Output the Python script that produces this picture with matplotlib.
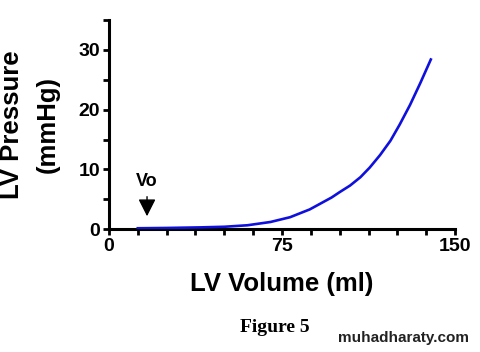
import numpy as np
import matplotlib.pyplot as plt
from matplotlib.ticker import MultipleLocator

# LV end-diastolic pressure-volume relation
volume = [12.5, 25, 40, 50, 60, 70, 78.5, 87, 96.5, 100, 104.5, 109, 113,
          117.5, 122, 126, 130.5, 135, 139.5]
pressure = [0.15, 0.2, 0.3, 0.4, 0.65, 1.2, 2.0, 3.3, 5.3, 6.2, 7.3, 8.7, 10.3,
            12.4, 14.8, 17.5, 20.8, 24.5, 28.4]

vo_x = 16.5
xticks = [0, 75, 150]
yticks = [0, 10, 20, 30]

plt.rcParams['font.family'] = ['Liberation Sans', 'DejaVu Sans']

fig = plt.figure(figsize=(4.8, 3.52), dpi=100)
ax = fig.add_axes([0.227, 0.349, 0.721, 0.594])

ax.plot(volume, pressure, color='#1010dd', lw=1.9, zorder=3,
        solid_joinstyle='round')

ax.set_xlim(0, 150)
ax.set_ylim(0, 35)
ax.set_xticks(xticks)
ax.set_yticks(yticks)
ax.xaxis.set_minor_locator(MultipleLocator(12.5))
ax.yaxis.set_minor_locator(MultipleLocator(5))

for s in ['top', 'right']:
    ax.spines[s].set_visible(False)
for s in ['left', 'bottom']:
    ax.spines[s].set_linewidth(2.2)

ax.tick_params(which='both', direction='out', width=2, length=4.5, pad=2)
ax.tick_params(axis='both', labelsize=14)
for lab in ax.get_xticklabels() + ax.get_yticklabels():
    lab.set_fontweight('bold')

# Vo marker
ax.annotate('', xy=(vo_x, 1.7), xytext=(vo_x, 5.9),
            arrowprops=dict(arrowstyle='-|>,head_length=0.75,head_width=0.38',
                            color='black', lw=1.0, mutation_scale=14))
ax.text(vo_x, 7.9, 'Vo', ha='center', va='center', fontsize=13, fontweight='bold')

ax.set_xlabel('LV Volume (ml)', fontsize=18.5, fontweight='bold', labelpad=12)
fig.text(0.025, 0.645, 'LV Pressure', rotation=90, ha='center', va='center',
         fontsize=18.5, fontweight='bold')
fig.text(0.099, 0.645, '(mmHg)', rotation=90, ha='center', va='center',
         fontsize=18.5, fontweight='bold')

fig.text(0.572, 0.07, 'Figure 5', ha='center', va='center', fontsize=14,
         fontweight='bold', family='Liberation Serif')
fig.text(0.84, 0.04, 'muhadharaty.com', ha='center', va='center', fontsize=11,
         fontweight='bold', color='#222222')

fig.savefig('out.png', dpi=100)
